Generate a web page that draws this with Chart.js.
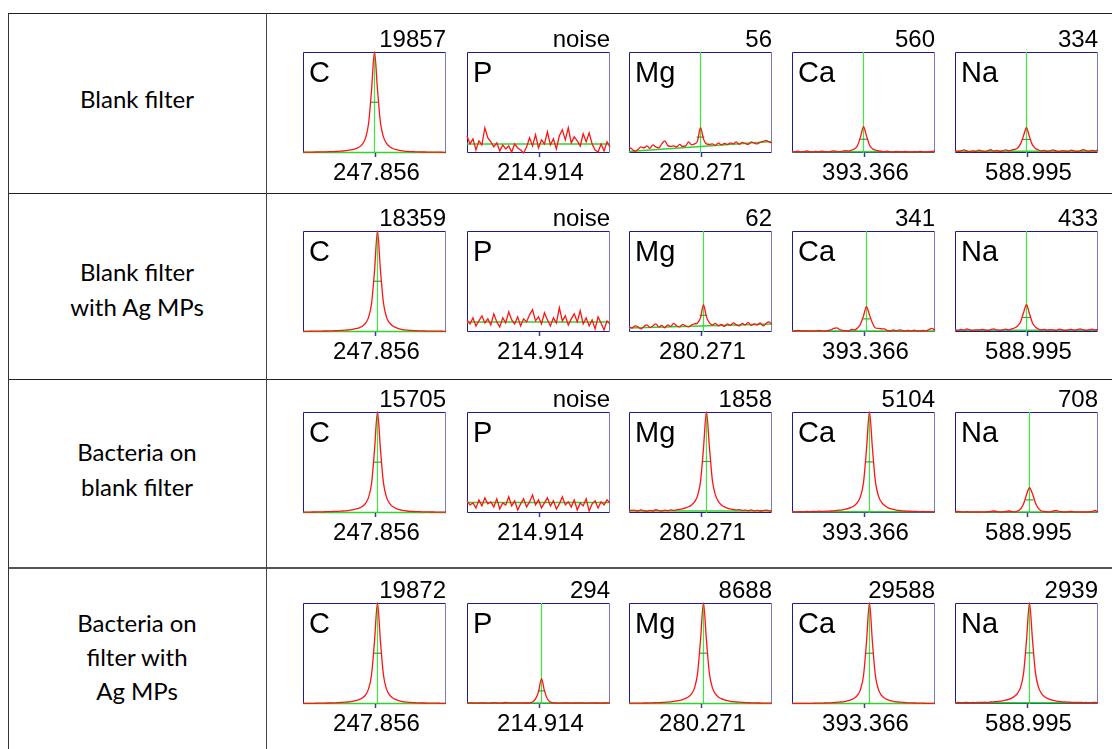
<!DOCTYPE html>
<html>
<head>
<meta charset="utf-8">
<script src="https://cdn.jsdelivr.net/npm/chart.js@4.4.0/dist/chart.umd.min.js"></script>
<style>
  body { margin: 0; background: #fff; width: 1112px; height: 749px; overflow: hidden; position: relative; }
  .hline { position: absolute; left: 8px; right: 0; height: 0; border-top: 1px solid #222; }
  .vline { position: absolute; top: 13px; bottom: 0; width: 0; border-left: 1px solid #333; }
  .rowlabel { position: absolute; left: 8px; width: 258px; text-align: center; font-family: Lato; font-size: 24px; line-height: 35px; color: #000; }
  canvas.panel { position: absolute; }
</style>
</head>
<body>
<div class="hline" style="top:13px"></div>
<div class="hline" style="top:193px"></div>
<div class="hline" style="top:379px"></div>
<div class="hline" style="top:567px; border-top:2px solid #555"></div>
<div class="vline" style="left:8px"></div>
<div class="vline" style="left:266px; border-left:1.5px solid #444"></div>

<script>
// table text
const rowLabels = [
  ['Blank filter'],
  ['Blank filter', 'with Ag MPs'],
  ['Bacteria on', 'blank filter'],
  ['Bacteria on', 'filter with', 'Ag MPs']
]
const elements = ['C', 'P', 'Mg', 'Ca', 'Na']
const wavelengths = ['247.856', '214.914', '280.271', '393.366', '588.995']
const intensities = [
  ['19857', 'noise', '56', '560', '334'],
  ['18359', 'noise', '62', '341', '433'],
  ['15705', 'noise', '1858', '5104', '708'],
  ['19872', '294', '8688', '29588', '2939']
]

// spectra, % of panel height, 49 points each (index 24 = reference wavelength)
const blankC = [0.8,0.8,0.9,0.9,1.0,1.0,1.1,1.1,1.2,1.3,1.4,1.5,1.7,1.9,2.1,2.5,3.0,3.6,4.6,6.2,9.0,15,29,62,100,63,30,16,9.8,6.5,4.7,3.5,2.8,2.3,1.9,1.6,1.4,1.3,1.2,1.1,1.0,1.0,0.9,0.9,0.8,0.8,0.8,0.7,0.7]
const blankP = [17,9,14,3,12,8,25,15,11,6,10,2,8,4,7,1,9,5,3,0,6,15,7,18,5,13,9,21,8,14,4,17,23,13,25,10,16,12,7,19,11,20,9,3,1,9,2,11,6]
const blankMg = [5.5,4.0,1.8,3.5,6.0,5.0,7.0,4.5,8.0,6.0,5.0,9.0,12,7.5,6.5,7.0,6.0,8.5,6.5,7.0,11,8.0,9.0,12,25,14,9.0,8.5,9.0,7.5,10,8.0,9.5,8.5,10,9.0,11,8.5,10.5,9.5,8.5,11,10,9.0,10.5,11.5,12.5,11,10]
const blankCa = [1.5,1.2,1.8,1.0,1.4,2.0,1.3,1.1,1.6,1.2,1.9,1.4,1.0,1.5,2.2,1.6,1.3,1.8,2.4,2.0,2.8,4.0,7.5,16,26,17,8,4.2,2.8,2.2,1.6,1.3,1.8,1.2,1.0,1.5,1.3,1.1,1.7,1.2,1.0,1.4,1.1,1.6,1.2,1.0,1.3,1.5,2.0]
const blankNa = [2.5,1.5,2.0,3.0,1.8,1.2,2.2,1.6,2.8,2.0,1.4,2.4,3.2,1.8,2.6,1.5,2.0,3.0,2.2,2.8,3.5,5.0,9,17,25,16,8,4.5,3.0,2.0,2.6,1.6,2.2,3.0,1.8,1.4,2.4,2.0,1.5,2.8,2.2,1.6,2.0,3.2,2.4,1.8,2.6,2.0,3.0]

const agC = [0.7,0.7,0.7,0.8,0.8,0.9,0.9,1.0,1.0,1.1,1.2,1.3,1.4,1.6,1.8,2.0,2.4,2.9,3.5,4.4,6.0,8.8,14.5,28,60,100,61,29,15,9.2,6.2,4.5,3.4,2.7,2.2,1.8,1.6,1.4,1.3,1.2,1.1,1.0,0.9,0.9,0.8,0.8,0.8,0.7,0.7]
const agP = [12,8,14,6,11,16,9,13,7,18,10,5,14,9,20,12,8,15,6,13,10,17,22,11,15,8,19,12,6,14,9,24,11,16,7,13,18,10,21,8,14,6,12,3,15,9,2,11,8]
const agMg = [5.0,4.0,6.0,5.0,3.0,5.5,7.0,4.5,6.0,8.0,5.0,6.5,4.0,7.0,5.5,8.5,6.0,5.0,7.5,6.0,5.0,7.0,8.0,9.0,14,27,15,9.0,7.0,8.5,6.0,7.5,5.5,8.0,6.5,9.0,7.0,6.0,8.5,7.0,9.5,6.5,8.0,7.0,9.0,6.0,8.5,10,7.5]
const agCa = [1.2,1.0,1.5,1.2,1.0,1.4,1.0,1.2,1.0,1.5,1.2,1.0,1.3,2.0,3.5,4.0,2.5,1.5,1.2,1.0,2.5,2.0,4.0,8,16,25,17,9,4.0,3.5,3.2,3.0,1.5,1.0,2.0,1.2,2.2,1.5,1.0,1.5,1.0,1.8,1.2,1.0,1.5,1.0,2.5,3.5,1.5]
const agNa = [2.0,1.5,2.5,1.8,3.0,2.0,1.4,2.2,1.8,2.6,2.0,1.5,2.4,3.0,2.0,1.6,2.2,2.8,2.0,3.0,4.0,6.0,10,19,27,18,9,5.0,3.0,2.2,2.6,1.8,2.4,2.0,1.6,2.8,2.2,1.5,2.0,2.6,1.8,2.4,3.0,2.0,1.6,2.2,2.8,2.0,2.4]

const bactC = [0.9,0.9,0.9,1.0,1.0,1.1,1.1,1.2,1.3,1.4,1.5,1.6,1.7,1.9,2.1,2.4,2.8,3.3,4.0,5.0,6.6,9.5,15.5,29,62,100,63,30,16,9.8,6.6,4.8,3.6,2.9,2.4,2.0,1.7,1.5,1.4,1.3,1.2,1.1,1.1,1.0,1.0,0.9,0.9,0.9,0.8]
const bactP = [12,8,10,5,13,7,15,9,11,6,14,4,10,8,16,7,12,3,9,14,6,11,18,8,13,5,10,15,7,12,4,9,16,8,11,6,13,3,10,7,14,2,9,12,5,11,8,13,10]
const bactMg = [2.2,2.8,2.5,2.0,3.0,2.2,1.8,2.6,2.0,3.2,2.4,2.0,2.8,2.4,3.0,2.6,3.2,3.6,4.2,5.0,6.2,8.0,11,17,31,64,100,65,32,18,11.5,8.0,6.0,4.8,4.0,3.5,3.0,3.3,2.6,2.8,2.4,3.0,2.2,2.6,2.0,2.4,2.8,2.2,2.0]
const bactCa = [1.3,1.1,1.2,1.4,1.1,1.5,1.3,1.6,1.4,1.8,1.5,1.7,1.9,2.0,2.2,2.5,2.8,3.2,3.8,4.6,5.8,7.5,10.5,16.5,30,63,100,64,31,17,10.8,7.6,5.6,4.3,3.5,2.9,2.5,2.2,2.0,1.8,1.7,1.6,1.5,1.4,1.5,1.3,1.4,1.2,1.3]
const bactNa = [1.2,1.5,1.2,1.0,1.3,1.0,1.2,1.0,1.0,1.2,1.0,1.3,1.5,2.0,1.5,1.2,1.0,1.5,2.0,1.5,1.2,2.0,4.0,9,18,25,19,10,4.5,2.0,1.5,1.2,1.0,2.0,2.5,1.5,1.2,1.0,1.3,1.5,1.2,1.0,1.2,1.0,1.0,1.2,1.5,2.5,1.2]

const bactAgC = [0.6,0.6,0.6,0.7,0.7,0.8,0.8,0.9,1.0,1.0,1.1,1.2,1.4,1.6,1.8,2.0,2.4,2.9,3.5,4.5,6.1,9.0,15,29,62,100,62,29,15,9.3,6.2,4.5,3.4,2.7,2.2,1.8,1.6,1.4,1.2,1.1,1.0,1.0,0.9,0.9,0.8,0.8,0.7,0.7,0.7]
const bactAgP = [1.0,1.2,1.0,0.8,1.0,1.2,1.0,0.8,1.0,1.3,1.0,0.8,1.0,1.5,1.2,1.0,1.3,1.0,1.2,1.0,1.0,1.2,2.0,5.0,12,25,13,5.0,2.0,1.2,1.0,0.8,1.0,1.2,1.0,0.8,1.0,1.0,1.2,1.0,0.8,1.0,1.2,1.0,1.0,0.8,1.0,1.2,1.0]
const bactAgMg = [0.8,0.8,0.8,0.9,0.9,1.0,1.0,1.1,1.2,1.3,1.4,1.5,1.7,1.9,2.2,2.5,3.0,3.6,4.4,5.5,7.2,10,16,30,63,100,63,30,16,10,7.0,5.3,4.1,3.3,2.7,2.3,2.0,1.8,1.6,1.4,1.3,1.2,1.1,1.0,1.0,0.9,0.9,0.9,0.8]
const bactAgCa = [0.6,0.6,0.6,0.6,0.6,0.7,0.7,0.7,0.8,0.8,0.9,1.0,1.1,1.2,1.4,1.6,1.9,2.2,2.7,3.4,4.4,6.0,8.8,14.5,28,61,100,61,28,14.5,8.8,6.0,4.4,3.4,2.7,2.2,1.9,1.6,1.4,1.2,1.1,1.0,0.9,0.8,0.8,0.7,0.7,0.7,0.6]
const bactAgNa = [1.4,1.5,1.2,1.4,1.6,1.3,1.5,1.4,1.7,1.5,1.8,1.6,2.0,2.2,2.4,2.8,3.2,3.8,4.6,5.8,7.6,10.6,16.5,30,63,100,64,31,17,10.6,7.4,5.5,4.3,3.5,2.9,2.5,2.2,2.0,1.8,1.7,1.6,1.5,1.6,1.4,1.5,1.3,1.4,1.6,1.3]

const spectra = [
  [blankC, blankP, blankMg, blankCa, blankNa],
  [agC, agP, agMg, agCa, agNa],
  [bactC, bactP, bactMg, bactCa, bactNa],
  [bactAgC, bactAgP, bactAgMg, bactAgCa, bactAgNa]
]
// where the measured peak / green line sits (null = noise, no line)
const peakIndex = [
  [24, null, 24, 24, 24],
  [25, null, 25, 25, 24],
  [25, null, 26, 26, 25],
  [25, 25, 25, 26, 25]
]
// green background line, left and right level
const baseLeft = [
  [0.5, 9, 1.6, 1.2, 1.8],
  [0.5, 10, 4, 1.0, 1.8],
  [0.6, 10.5, 2.0, 1.2, 1.0],
  [0.5, 0.9, 0.6, 0.5, 1.2]
]
const baseRight = [
  [0.5, 9, 11.5, 1.2, 1.8],
  [0.5, 10, 8, 1.0, 1.8],
  [0.6, 10.5, 2.0, 1.2, 1.0],
  [0.5, 0.9, 0.6, 0.5, 1.2]
]
const refIndex = 24

// layout
const colLeft = [303, 467, 629, 792, 955]
const rowTop = [52, 231, 412, 603]
const labelTop = [80.5, 253.5, 433.5, 606]
const labelLine = [35, 35, 35, 34]
const boxW = 143, boxH = 101, padX = 10, padY = 40

rowLabels.forEach((lines, r) => {
  const div = document.createElement('div')
  div.className = 'rowlabel'
  div.style.top = labelTop[r] + 'px'
  div.style.lineHeight = labelLine[r] + 'px'
  div.innerHTML = lines.join('<br>')
  document.body.appendChild(div)
})

const panelFrame = {
  id: 'panelFrame',
  beforeDatasetsDraw(chart, args, opts) {
    const {ctx, chartArea: a} = chart
    ctx.save()
    ctx.lineWidth = 1
    ctx.strokeStyle = '#1c1c8c'
    ctx.beginPath()
    ctx.moveTo(a.right - 0.5, a.top + 0.5)
    ctx.lineTo(a.left + 0.5, a.top + 0.5)
    ctx.lineTo(a.left + 0.5, a.bottom - 0.5)
    ctx.lineTo(a.right - 0.5, a.bottom - 0.5)
    ctx.stroke()
    ctx.strokeStyle = '#7a7ac4'
    ctx.beginPath()
    ctx.moveTo(a.right - 0.5, a.top)
    ctx.lineTo(a.right - 0.5, a.bottom)
    ctx.stroke()
    ctx.restore()
  },
  afterDraw(chart, args, opts) {
    const {ctx, chartArea: a} = chart
    const tx = Math.round(chart.scales.x.getPixelForValue(refIndex)) + 0.5
    ctx.save()
    ctx.strokeStyle = '#3a3aa0'
    ctx.lineWidth = 1.5
    ctx.beginPath()
    ctx.moveTo(tx, a.bottom)
    ctx.lineTo(tx, a.bottom + 4)
    ctx.stroke()
    ctx.fillStyle = '#000'
    ctx.font = '29px "Liberation Sans", Arial, sans-serif'
    ctx.textAlign = 'left'
    ctx.textBaseline = 'alphabetic'
    ctx.fillText(opts.element, a.left + 6, a.top + 30)
    ctx.font = '24px "Liberation Sans", Arial, sans-serif'
    ctx.textAlign = 'right'
    ctx.fillText(opts.value, a.right, a.top - 5)
    ctx.textAlign = 'center'
    ctx.fillText(opts.wavelength, tx + 1, a.bottom + 27)
    ctx.restore()
  }
}

spectra.forEach((row, r) => {
  row.forEach((spec, c) => {
    const canvas = document.createElement('canvas')
    canvas.className = 'panel'
    canvas.width = boxW + 2 * padX
    canvas.height = boxH + 2 * padY
    canvas.style.left = (colLeft[c] - padX) + 'px'
    canvas.style.top = (rowTop[r] - padY) + 'px'
    document.body.appendChild(canvas)

    const p = peakIndex[r][c]
    const bl = baseLeft[r][c], br = baseRight[r][c]
    const last = spec.length - 1
    const datasets = [{
      data: spec.map((v, i) => ({x: i, y: v})),
      borderColor: '#ff1414',
      borderWidth: 1.3,
      pointRadius: 0,
      tension: p === null ? 0 : 0.4,
      cubicInterpolationMode: p === null ? 'default' : 'monotone',
      order: 0,
      clip: 3
    }, {
      data: [{x: 0, y: bl}, {x: last, y: br}],
      borderColor: '#2fd22f',
      borderWidth: 1.5,
      pointRadius: 0,
      order: 2,
      clip: 3
    }]
    if (p !== null) {
      const baseAtPeak = bl + (br - bl) * p / last
      const half = (spec[p] + baseAtPeak) / 2
      datasets.push({
        data: [{x: p, y: 0}, {x: p, y: 100}],
        borderColor: '#3ee83e',
        borderWidth: 1.2,
        pointRadius: 0,
        order: 3
      }, {
        data: [{x: p - 1.3, y: half}, {x: p + 1.3, y: half}],
        borderColor: '#3aa03a',
        borderWidth: 1.2,
        pointRadius: 0,
        order: 1
      })
    }

    new Chart(canvas, {
      type: 'line',
      data: {datasets: datasets},
      options: {
        responsive: false,
        animation: false,
        events: [],
        layout: {padding: {left: padX, right: padX, top: padY, bottom: padY}},
        plugins: {
          legend: {display: false},
          tooltip: {enabled: false},
          panelFrame: {element: elements[c], value: intensities[r][c], wavelength: wavelengths[c]}
        },
        scales: {
          x: {type: 'linear', min: 0, max: last, display: false},
          y: {min: 0, max: 100, display: false}
        }
      },
      plugins: [panelFrame]
    })
  })
})
</script>
</body>
</html>
